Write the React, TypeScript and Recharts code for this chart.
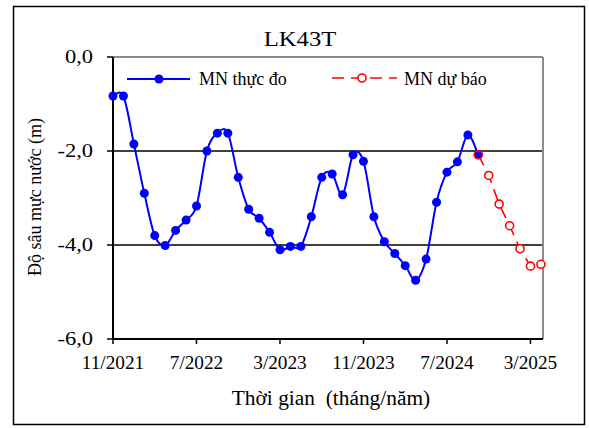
import React from 'react';
import { LineChart, Line, XAxis, YAxis, ReferenceLine } from 'recharts';

// monthly records, first one is 11/2021
const months = [
  '11/2021', '12/2021', '1/2022', '2/2022', '3/2022', '4/2022', '5/2022', '6/2022', '7/2022',
  '8/2022', '9/2022', '10/2022', '11/2022', '12/2022', '1/2023', '2/2023', '3/2023', '4/2023',
  '5/2023', '6/2023', '7/2023', '8/2023', '9/2023', '10/2023', '11/2023', '12/2023', '1/2024',
  '2/2024', '3/2024', '4/2024', '5/2024', '6/2024', '7/2024', '8/2024', '9/2024', '10/2024',
  '11/2024', '12/2024', '1/2025', '2/2025', '3/2025', '4/2025',
];

// MN thực đo (measured)
const observed = [
  -0.83, -0.83, -1.85, -2.9, -3.8, -4.01, -3.69, -3.47, -3.17, -2.0, -1.62, -1.62,
  -2.56, -3.24, -3.43, -3.73, -4.1, -4.03, -4.03, -3.4, -2.56, -2.49, -2.93, -2.08,
  -2.22, -3.4, -3.93, -4.18, -4.44, -4.75, -4.3, -3.09, -2.45, -2.23, -1.66, -2.08,
];

// MN dự báo (forecast), starts at the last measured month
const forecastStart = 35;
const forecast = [-2.08, -2.52, -3.13, -3.59, -4.08, -4.45, -4.41];

const xTicks = [0, 8, 16, 24, 32, 40];
const yTicks = [0, -2, -4, -6];
const gridValues = [-2, -4];
const xMax = 41.2;

const FONT = '"Liberation Serif", "Times New Roman", serif';

const data = months.map((label, i) => ({
  m: i,
  label,
  obs: i < observed.length ? observed[i] : null,
  fc: i >= forecastStart && i - forecastStart < forecast.length ? forecast[i - forecastStart] : null,
}));

// Excel-like smoothed line (uniform Catmull-Rom as cubic bezier)
const excelSmooth = (context: any) => {
  let pts: number[][] = [];
  return {
    areaStart() {},
    areaEnd() {},
    lineStart() {
      pts = [];
    },
    point(x: number, y: number) {
      pts.push([+x, +y]);
    },
    lineEnd() {
      if (!pts.length) return;
      context.moveTo(pts[0][0], pts[0][1]);
      for (let i = 0; i < pts.length - 1; i++) {
        const p0 = pts[i - 1] || pts[i];
        const p1 = pts[i];
        const p2 = pts[i + 1];
        const p3 = pts[i + 2] || p2;
        context.bezierCurveTo(
          p1[0] + (p2[0] - p0[0]) / 6,
          p1[1] + (p2[1] - p0[1]) / 6,
          p2[0] - (p3[0] - p1[0]) / 6,
          p2[1] - (p3[1] - p1[1]) / 6,
          p2[0],
          p2[1]
        );
      }
    },
  };
};

const XTick = ({ x, y, payload }: any) => (
  <g transform={`translate(${x},${y})`}>
    <text transform="scale(1.07,1)" textAnchor="middle" dy="0.71em" fontSize={18} fontFamily={FONT} fill="#000">
      {months[payload.value]}
    </text>
  </g>
);

const YTick = ({ x, y, payload }: any) => (
  <g transform={`translate(${x},${y})`}>
    <text transform="scale(1.25,1)" textAnchor="end" dy="0.35em" fontSize={18} fontFamily={FONT} fill="#000">
      {payload.value.toFixed(1).replace('.', ',')}
    </text>
  </g>
);

const ForecastDot = (props: any) => {
  const { cx, cy, payload, index } = props;
  if (cy == null || payload.fc == null) return <g key={`fd-${index}`} />;
  return (
    <circle
      key={`fd-${index}`}
      cx={cx}
      cy={cy}
      r={4}
      stroke="#FF0000"
      strokeWidth={1.6}
      fill={payload.obs != null ? 'none' : '#fff'}
    />
  );
};

export default function App() {
  return (
    <div style={{ position: 'absolute', left: 0, top: 0, width: 589, height: 428, background: '#fff' }}>
      <LineChart width={589} height={428} data={data} margin={{ top: 57, right: 46, bottom: 59, left: 0 }}>
        <XAxis
          type="number"
          dataKey="m"
          domain={[0, xMax]}
          ticks={xTicks}
          interval={0}
          tick={<XTick />}
          tickSize={5}
          tickMargin={12}
          height={30}
          axisLine={{ stroke: '#000', strokeWidth: 2 }}
          tickLine={{ stroke: '#000', strokeWidth: 1.5 }}
        />
        <YAxis
          type="number"
          domain={[-6, 0]}
          ticks={yTicks}
          interval={0}
          tick={<YTick />}
          tickSize={6}
          tickMargin={14}
          width={113}
          axisLine={{ stroke: '#000', strokeWidth: 2 }}
          tickLine={{ stroke: '#000', strokeWidth: 1.5 }}
        />
        {gridValues.map((v) => (
          <ReferenceLine key={v} y={v} stroke="#000" strokeWidth={1.5} />
        ))}
        <ReferenceLine y={0} stroke="#8c8c8c" strokeWidth={2} />
        <ReferenceLine x={xMax} stroke="#8c8c8c" strokeWidth={2} />
        <Line
          dataKey="obs"
          type={excelSmooth as any}
          stroke="#0000FF"
          strokeWidth={2}
          dot={{ r: 4.5, fill: '#0000FF', stroke: '#0000FF', strokeWidth: 0 }}
          isAnimationActive={false}
        />
        <Line
          dataKey="fc"
          type="linear"
          stroke="#FF0000"
          strokeWidth={1.6}
          strokeDasharray="12 7"
          dot={<ForecastDot />}
          isAnimationActive={false}
        />
      </LineChart>
      <svg
        width={589}
        height={428}
        style={{ position: 'absolute', left: 0, top: 0, pointerEvents: 'none' }}
        fontFamily={FONT}
      >
        <rect x={13.5} y={6.5} width={571} height={418} fill="none" stroke="#000" strokeWidth={1.5} />
        <text x={300} y={46} textAnchor="middle" fontSize={22} transform="translate(300,0) scale(1.12,1) translate(-300,0)">
          LK43T
        </text>
        <g transform="translate(41,197) rotate(-90)">
          <text textAnchor="middle" fontSize={18}>Độ sâu mực nước (m)</text>
        </g>
        <text
          x={331}
          y={405}
          textAnchor="middle"
          fontSize={20}
          style={{ whiteSpace: 'pre' }}
          transform="translate(331,0) scale(1.07,1) translate(-331,0)"
        >
          {'Thời gian  (tháng/năm)'}
        </text>
        {/* legend */}
        <line x1={127} y1={79} x2={190} y2={79} stroke="#0000FF" strokeWidth={2} />
        <circle cx={159} cy={79} r={4.5} fill="#0000FF" />
        <text x={199} y={85} fontSize={18}>MN thực đo</text>
        <line x1={332} y1={78} x2={397} y2={78} stroke="#FF0000" strokeWidth={1.6} strokeDasharray="12 7" />
        <circle cx={362} cy={78} r={4} fill="#fff" stroke="#FF0000" strokeWidth={1.6} />
        <text x={404} y={85} fontSize={18}>MN dự báo</text>
      </svg>
    </div>
  );
}
